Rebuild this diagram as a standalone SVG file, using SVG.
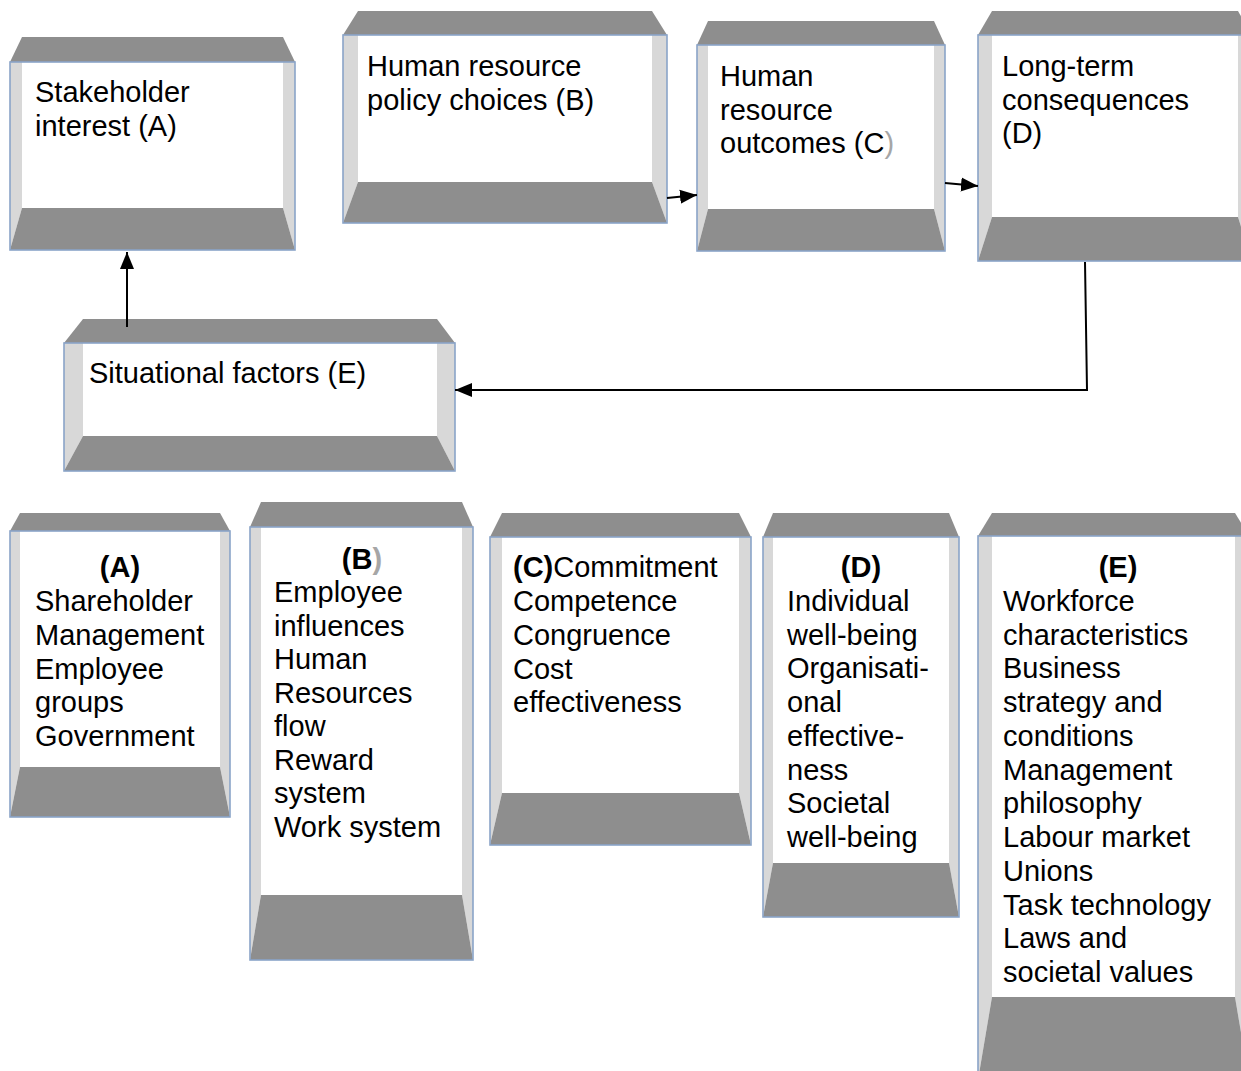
<svg xmlns="http://www.w3.org/2000/svg" width="1241" height="1071" viewBox="0 0 1241 1071">
<style>
.bg{fill:#ffffff}
.dk{fill:#8e8e8e}
.lt{fill:#d8d8d8}
.fr{fill:none;stroke:#8aa4c8;stroke-width:1.6}
text{font-family:"Liberation Sans",Arial,sans-serif;font-size:29px;fill:#000}
.b{font-weight:bold}
.c{text-anchor:middle}
.g{fill:#a6a6a6}
.ln{fill:none;stroke:#000;stroke-width:2}
</style>
<defs>
<marker id="ah" markerUnits="userSpaceOnUse" markerWidth="18" markerHeight="16" refX="17" refY="8" orient="auto">
<path d="M0,1 L17,8 L0,15 Z" fill="#000"/>
</marker>
</defs>
<rect x="0" y="0" width="1241" height="1071" fill="#ffffff"/>

<g id="stakeholder-interest">
<rect class="bg" x="10" y="62" width="285" height="188"/>
<polygon class="lt" points="10,62 22,62 22,208 10,250"/>
<polygon class="lt" points="295,62 283,62 283,208 295,250"/>
<polygon class="dk" points="10,62 22,37 283,37 295,62"/>
<polygon class="dk" points="22,208 283,208 295,250 10,250"/>
<rect class="fr" x="10" y="62" width="285" height="188"/>
<text x="35" y="102">Stakeholder</text>
<text x="35" y="136">interest (A)</text>
</g>

<g id="hr-policy-choices">
<rect class="bg" x="343" y="35" width="324" height="188"/>
<polygon class="lt" points="343,35 358,35 358,182 343,223"/>
<polygon class="lt" points="667,35 652,35 652,182 667,223"/>
<polygon class="dk" points="343,35 358,11 652,11 667,35"/>
<polygon class="dk" points="358,182 652,182 667,223 343,223"/>
<rect class="fr" x="343" y="35" width="324" height="188"/>
<text x="367" y="76">Human resource</text>
<text x="367" y="110">policy choices (B)</text>
</g>

<g id="hr-outcomes">
<rect class="bg" x="697" y="45" width="248" height="206"/>
<polygon class="lt" points="697,45 708,45 708,209 697,251"/>
<polygon class="lt" points="945,45 934,45 934,209 945,251"/>
<polygon class="dk" points="697,45 708,21 934,21 945,45"/>
<polygon class="dk" points="708,209 934,209 945,251 697,251"/>
<rect class="fr" x="697" y="45" width="248" height="206"/>
<text x="720" y="86">Human</text>
<text x="720" y="120">resource</text>
<text x="720" y="153">outcomes (C<tspan class="g">)</tspan></text>
</g>

<g id="long-term-consequences">
<rect class="bg" x="978" y="35" width="274" height="226"/>
<polygon class="lt" points="978,35 992,35 992,217 978,261"/>
<polygon class="lt" points="1252,35 1238,35 1238,217 1252,261"/>
<polygon class="dk" points="978,35 992,11 1238,11 1252,35"/>
<polygon class="dk" points="992,217 1238,217 1252,261 978,261"/>
<rect class="fr" x="978" y="35" width="274" height="226"/>
<text x="1002" y="76">Long-term</text>
<text x="1002" y="110">consequences</text>
<text x="1002" y="143">(D)</text>
</g>

<g id="situational-factors">
<rect class="bg" x="64" y="343" width="391" height="128"/>
<polygon class="lt" points="64,343 83,343 83,436 64,471"/>
<polygon class="lt" points="455,343 437,343 437,436 455,471"/>
<polygon class="dk" points="64,343 83,319 437,319 455,343"/>
<polygon class="dk" points="83,436 437,436 455,471 64,471"/>
<rect class="fr" x="64" y="343" width="391" height="128"/>
<text x="89" y="383">Situational factors (E)</text>
</g>

<g id="list-a">
<rect class="bg" x="10" y="531" width="220" height="286"/>
<polygon class="lt" points="10,531 20,531 20,767 10,817"/>
<polygon class="lt" points="230,531 220,531 220,767 230,817"/>
<polygon class="dk" points="10,531 20,513 220,513 230,531"/>
<polygon class="dk" points="20,767 220,767 230,817 10,817"/>
<rect class="fr" x="10" y="531" width="220" height="286"/>
<text class="b c" x="120" y="577">(A)</text>
<text x="35" y="611">Shareholder</text>
<text x="35" y="645">Management</text>
<text x="35" y="679">Employee</text>
<text x="35" y="712">groups</text>
<text x="35" y="746">Government</text>
</g>

<g id="list-b">
<rect class="bg" x="250" y="527" width="223" height="433"/>
<polygon class="lt" points="250,527 261,527 261,895 250,960"/>
<polygon class="lt" points="473,527 462,527 462,895 473,960"/>
<polygon class="dk" points="250,527 261,502 462,502 473,527"/>
<polygon class="dk" points="261,895 462,895 473,960 250,960"/>
<rect class="fr" x="250" y="527" width="223" height="433"/>
<text class="b c" x="362" y="569">(B<tspan class="g">)</tspan></text>
<text x="274" y="602">Employee</text>
<text x="274" y="636">influences</text>
<text x="274" y="669">Human</text>
<text x="274" y="703">Resources</text>
<text x="274" y="736">flow</text>
<text x="274" y="770">Reward</text>
<text x="274" y="803">system</text>
<text x="274" y="837">Work system</text>
</g>

<g id="list-c">
<rect class="bg" x="490" y="537" width="261" height="308"/>
<polygon class="lt" points="490,537 502,537 502,793 490,845"/>
<polygon class="lt" points="751,537 739,537 739,793 751,845"/>
<polygon class="dk" points="490,537 502,513 739,513 751,537"/>
<polygon class="dk" points="502,793 739,793 751,845 490,845"/>
<rect class="fr" x="490" y="537" width="261" height="308"/>
<text x="513" y="577"><tspan class="b">(C)</tspan>Commitment</text>
<text x="513" y="611">Competence</text>
<text x="513" y="645">Congruence</text>
<text x="513" y="679">Cost</text>
<text x="513" y="712">effectiveness</text>
</g>

<g id="list-d">
<rect class="bg" x="763" y="537" width="196" height="380"/>
<polygon class="lt" points="763,537 773,537 773,863 763,917"/>
<polygon class="lt" points="959,537 949,537 949,863 959,917"/>
<polygon class="dk" points="763,537 773,513 949,513 959,537"/>
<polygon class="dk" points="773,863 949,863 959,917 763,917"/>
<rect class="fr" x="763" y="537" width="196" height="380"/>
<text class="b c" x="861" y="577">(D)</text>
<text x="787" y="611">Individual</text>
<text x="787" y="645">well-being</text>
<text x="787" y="678">Organisati-</text>
<text x="787" y="712">onal</text>
<text x="787" y="746">effective-</text>
<text x="787" y="780">ness</text>
<text x="787" y="813">Societal</text>
<text x="787" y="847">well-being</text>
</g>

<g id="list-e">
<rect class="bg" x="978" y="536" width="271" height="544"/>
<polygon class="lt" points="978,536 992,536 992,997 978,1080"/>
<polygon class="lt" points="1249,536 1235,536 1235,997 1249,1080"/>
<polygon class="dk" points="978,536 992,513 1235,513 1249,536"/>
<polygon class="dk" points="992,997 1235,997 1249,1080 978,1080"/>
<rect class="fr" x="978" y="536" width="271" height="544"/>
<text class="b c" x="1118" y="577">(E)</text>
<text x="1003" y="611">Workforce</text>
<text x="1003" y="645">characteristics</text>
<text x="1003" y="678">Business</text>
<text x="1003" y="712">strategy and</text>
<text x="1003" y="746">conditions</text>
<text x="1003" y="780">Management</text>
<text x="1003" y="813">philosophy</text>
<text x="1003" y="847">Labour market</text>
<text x="1003" y="881">Unions</text>
<text x="1003" y="915">Task technology</text>
<text x="1003" y="948">Laws and</text>
<text x="1003" y="982">societal values</text>
</g>

<g id="connectors">
<line class="ln" x1="127" y1="327" x2="127" y2="252" marker-end="url(#ah)"/>
<line class="ln" x1="667" y1="198" x2="697" y2="195" marker-end="url(#ah)"/>
<line class="ln" x1="945" y1="183" x2="978" y2="186" marker-end="url(#ah)"/>
<polyline class="ln" points="1085,262 1087,390 455,390" marker-end="url(#ah)"/>
</g>
</svg>
